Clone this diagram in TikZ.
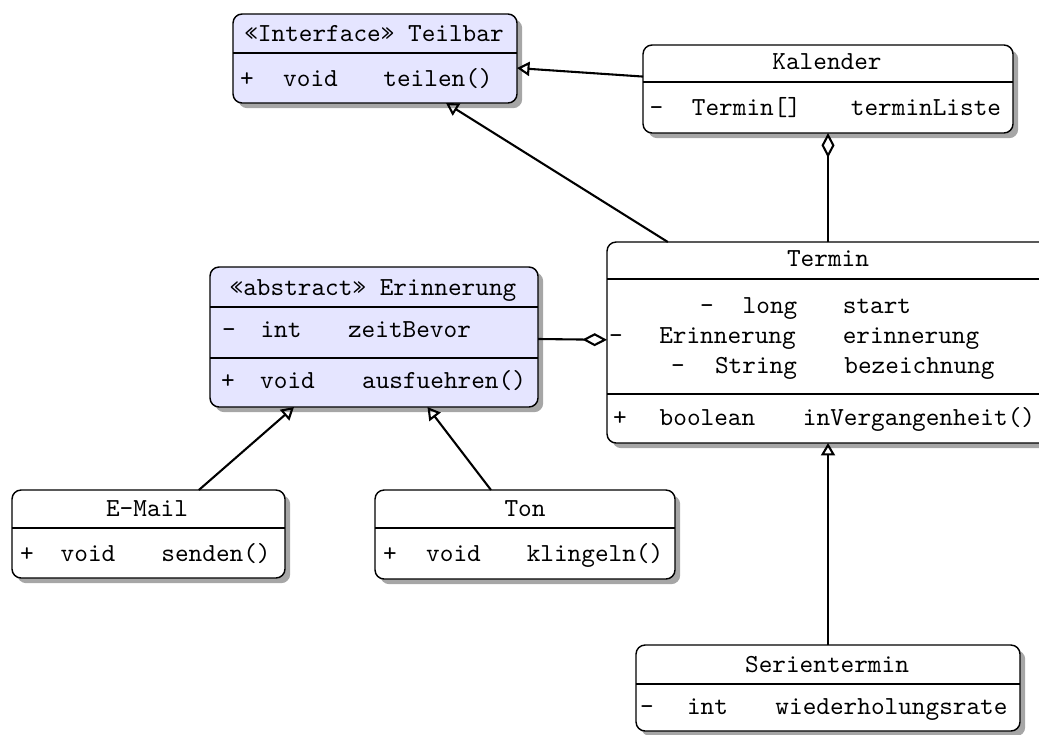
\documentclass[tikz,border=0pt]{standalone}
\usepackage{fontspec}
\usetikzlibrary{arrows.meta,shadows,fit}
\tikzset{
  cls/.style={draw=black, line width=0.55pt, rounded corners=3.5pt, fill=white,
    inner sep=0pt, outer sep=0pt,
    drop shadow={shadow xshift=2pt, shadow yshift=-2pt, opacity=0.35, fill=black}},
  abst/.style={cls, fill=blue!10},
  sepline/.style={line width=0.55pt},
  word/.style={inner sep=0pt, anchor=base, font=\ttfamily},
  conn/.style={line width=0.8pt},
  gen/.style={conn, -{Triangle[open, length=4.8pt, width=5.4pt]}},
  agg/.style={conn, -{Diamond[open, length=9.5pt, width=5pt]}},
}
\newcommand\wrd[4]{\node[word] (#1) at (#2,#3) {#4};}
\begin{document}
\begin{tikzpicture}[x=0.3846pt, y=-0.3846pt]
\useasboundingbox (0,0) rectangle (1039,734);
\clip (0,0) rectangle (1039,734);

% ---- boxes ----
\node[abst, fit={(233,14) (517,103)}] (teilbar) {};
\node[cls, fit={(643,45) (1013,133)}] (kalender) {};
\node[cls, fit={(607,242) (1049,443)}] (termin) {};
\node[abst, fit={(210,267) (538,407)}] (erinnerung) {};
\node[cls, fit={(12,490) (285,578)}] (email) {};
\node[cls, fit={(375,490) (675,579)}] (ton) {};
\node[cls, fit={(636,645) (1020,731)}] (serien) {};

% ---- dividers ----
\draw[sepline] (teilbar.west |- 0,53) -- (teilbar.east |- 0,53);
\draw[sepline] (kalender.west |- 0,82) -- (kalender.east |- 0,82);
\draw[sepline] (termin.west |- 0,279) -- (termin.east |- 0,279);
\draw[sepline] (termin.west |- 0,394) -- (termin.east |- 0,394);
\draw[sepline] (erinnerung.west |- 0,307) -- (erinnerung.east |- 0,307);
\draw[sepline] (erinnerung.west |- 0,358) -- (erinnerung.east |- 0,358);
\draw[sepline] (email.west |- 0,528) -- (email.east |- 0,528);
\draw[sepline] (ton.west |- 0,528) -- (ton.east |- 0,528);
\draw[sepline] (serien.west |- 0,684) -- (serien.east |- 0,684);

% ---- Teilbar ----
\wrd{tbT}{374}{41}{«Interface» Teilbar}
\wrd{tbA}{247}{86}{+}
\wrd{tbB}{310.5}{86}{void}
\wrd{tbC}{438}{86}{teilen()}

% ---- Kalender ----
\wrd{kaT}{827}{69}{Kalender}
\wrd{kaA}{656.5}{115}{-}
\wrd{kaB}{746.5}{115}{Termin[]}
\wrd{kaC}{926}{115}{terminListe}

% ---- Termin ----
\wrd{teT}{828}{266}{Termin}
\wrd{teA1}{707}{313}{-}
\wrd{teB1}{770}{313}{long}
\wrd{teC1}{877}{313}{start}
\wrd{teA2}{616}{343}{-}
\wrd{teB2}{727.5}{343}{Erinnerung}
\wrd{teC2}{911}{343}{erinnerung}
\wrd{teA3}{678}{373}{-}
\wrd{teB3}{756}{373}{String}
\wrd{teC3}{919.5}{373}{bezeichnung}
\wrd{teA4}{620}{425}{+}
\wrd{teB4}{707.5}{425}{boolean}
\wrd{teC4}{919}{425}{inVergangenheit()}

% ---- Erinnerung ----
\wrd{erT}{373}{295}{«abstract» Erinnerung}
\wrd{erA1}{229}{337}{-}
\wrd{erB1}{281}{337}{int}
\wrd{erC1}{409.5}{337}{zeitBevor}
\wrd{erA2}{228}{388}{+}
\wrd{erB2}{287.5}{388}{void}
\wrd{erC2}{444}{388}{ausfuehren()}

% ---- E-Mail ----
\wrd{emT}{147}{516}{E-Mail}
\wrd{emA}{27}{561}{+}
\wrd{emB}{88}{561}{void}
\wrd{emC}{216}{561}{senden()}

% ---- Ton ----
\wrd{toT}{525}{516}{Ton}
\wrd{toA}{390}{561}{+}
\wrd{toB}{453.5}{561}{void}
\wrd{toC}{595}{561}{klingeln()}

% ---- Serientermin ----
\wrd{seT}{827}{672}{Serientermin}
\wrd{seA}{647}{714}{-}
\wrd{seB}{707.5}{714}{int}
\wrd{seC}{891.5}{714}{wiederholungsrate}

% ---- connectors ----
\draw[gen] (kalender) -- (teilbar);
\draw[gen] (termin) -- (teilbar);
\draw[agg] (termin) -- (kalender);
\draw[agg] (erinnerung) -- (termin);
\draw[gen] (email) -- (erinnerung);
\draw[gen] (ton) -- (erinnerung);
\draw[gen] (serien) -- (termin);
\end{tikzpicture}
\end{document}
